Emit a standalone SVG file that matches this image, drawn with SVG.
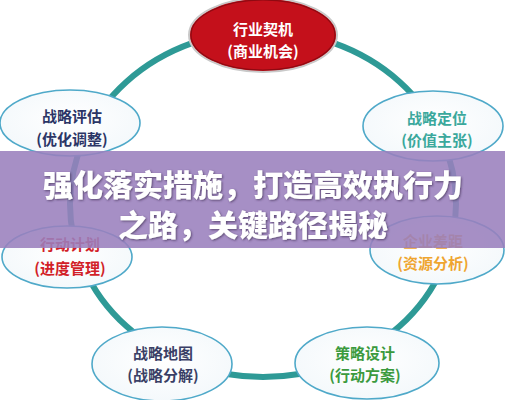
<svg xmlns="http://www.w3.org/2000/svg" width="505" height="400" viewBox="0 0 505 400">
  <defs>
    <style>
      .node { fill: #ffffff; stroke: #4fa9c9; stroke-width: 1.6; }
      .t { font-family: "Noto Sans CJK SC", "Noto Sans", sans-serif; font-weight: bold; font-size: 15px; text-anchor: middle; dominant-baseline: central; }
      .banner-t { font-family: "Noto Sans CJK SC", "Noto Sans", sans-serif; font-weight: 900; font-size: 30px; fill: #ffffff; text-anchor: middle; dominant-baseline: central; }
    </style>
    <filter id="shadow" x="-10%" y="-30%" width="120%" height="160%">
      <feDropShadow dx="1" dy="1" stdDeviation="1" flood-color="#3a2a50" flood-opacity="0.7"/>
    </filter>
    <radialGradient id="nodeFill" cx="50%" cy="45%" r="60%">
      <stop offset="0%" stop-color="#ffffff"/>
      <stop offset="100%" stop-color="#f3f8fb"/>
    </radialGradient>
  </defs>
  <rect width="505" height="400" fill="#ffffff"/>

  <g id="connectors">
    <ellipse cx="263" cy="204" rx="193" ry="173" fill="none" stroke="#2e9a96" stroke-width="6"/>
  </g>

  <g id="node-top">
    <ellipse cx="263" cy="35" rx="74" ry="37" fill="#c4101b" stroke="#c9c9c9" stroke-width="2"/>
    <ellipse cx="263" cy="35" rx="72" ry="35" fill="none" stroke="#8e0a12" stroke-width="1.2"/>
    <text class="t" x="263" y="28" fill="#ffffff">行业契机</text>
    <text class="t" x="263" y="50" fill="#ffffff">(商业机会)</text>
  </g>

  <g id="node-upper-left">
    <ellipse class="node" cx="70" cy="123" rx="70" ry="33" style="fill:url(#nodeFill)"/>
    <text class="t" x="72" y="115" fill="#2b3566">战略评估</text>
    <text class="t" x="72" y="138" fill="#2b3566">(优化调整)</text>
  </g>

  <g id="node-upper-right">
    <ellipse class="node" cx="433" cy="126" rx="70" ry="35" style="fill:url(#nodeFill)"/>
    <text class="t" x="437" y="117" fill="#3aa89c">战略定位</text>
    <text class="t" x="437" y="139" fill="#3aa89c">(价值主张)</text>
  </g>

  <g id="node-left">
    <ellipse class="node" cx="67" cy="257" rx="65" ry="31" style="fill:url(#nodeFill)"/>
    <text class="t" x="70" y="243" fill="#d21f28">行动计划</text>
    <text class="t" x="70" y="267" fill="#d21f28">(进度管理)</text>
  </g>

  <g id="node-right">
    <ellipse class="node" cx="437" cy="250" rx="67" ry="34" style="fill:url(#nodeFill)"/>
    <text class="t" x="433" y="240" fill="#efa530">企业差距</text>
    <text class="t" x="433" y="262" fill="#efa530">(资源分析)</text>
  </g>

  <g id="node-bottom-left">
    <ellipse class="node" cx="162" cy="364" rx="70" ry="37" style="fill:url(#nodeFill)"/>
    <text class="t" x="163" y="352" fill="#3a3f66">战略地图</text>
    <text class="t" x="163" y="374" fill="#3a3f66">(战略分解)</text>
  </g>

  <g id="node-bottom-right">
    <ellipse class="node" cx="367" cy="363" rx="72" ry="36" style="fill:url(#nodeFill)"/>
    <text class="t" x="365" y="352" fill="#3b9a3e">策略设计</text>
    <text class="t" x="365" y="374" fill="#3b9a3e">(行动方案)</text>
  </g>

  <g id="banner">
    <rect x="0" y="151" width="505" height="97" fill="#9a80bd" fill-opacity="0.88"/>
    <g filter="url(#shadow)">
      <text class="banner-t" x="253" y="183">强化落实措施，打造高效执行力</text>
      <text class="banner-t" x="253" y="223">之路，关键路径揭秘</text>
    </g>
  </g>
</svg>
